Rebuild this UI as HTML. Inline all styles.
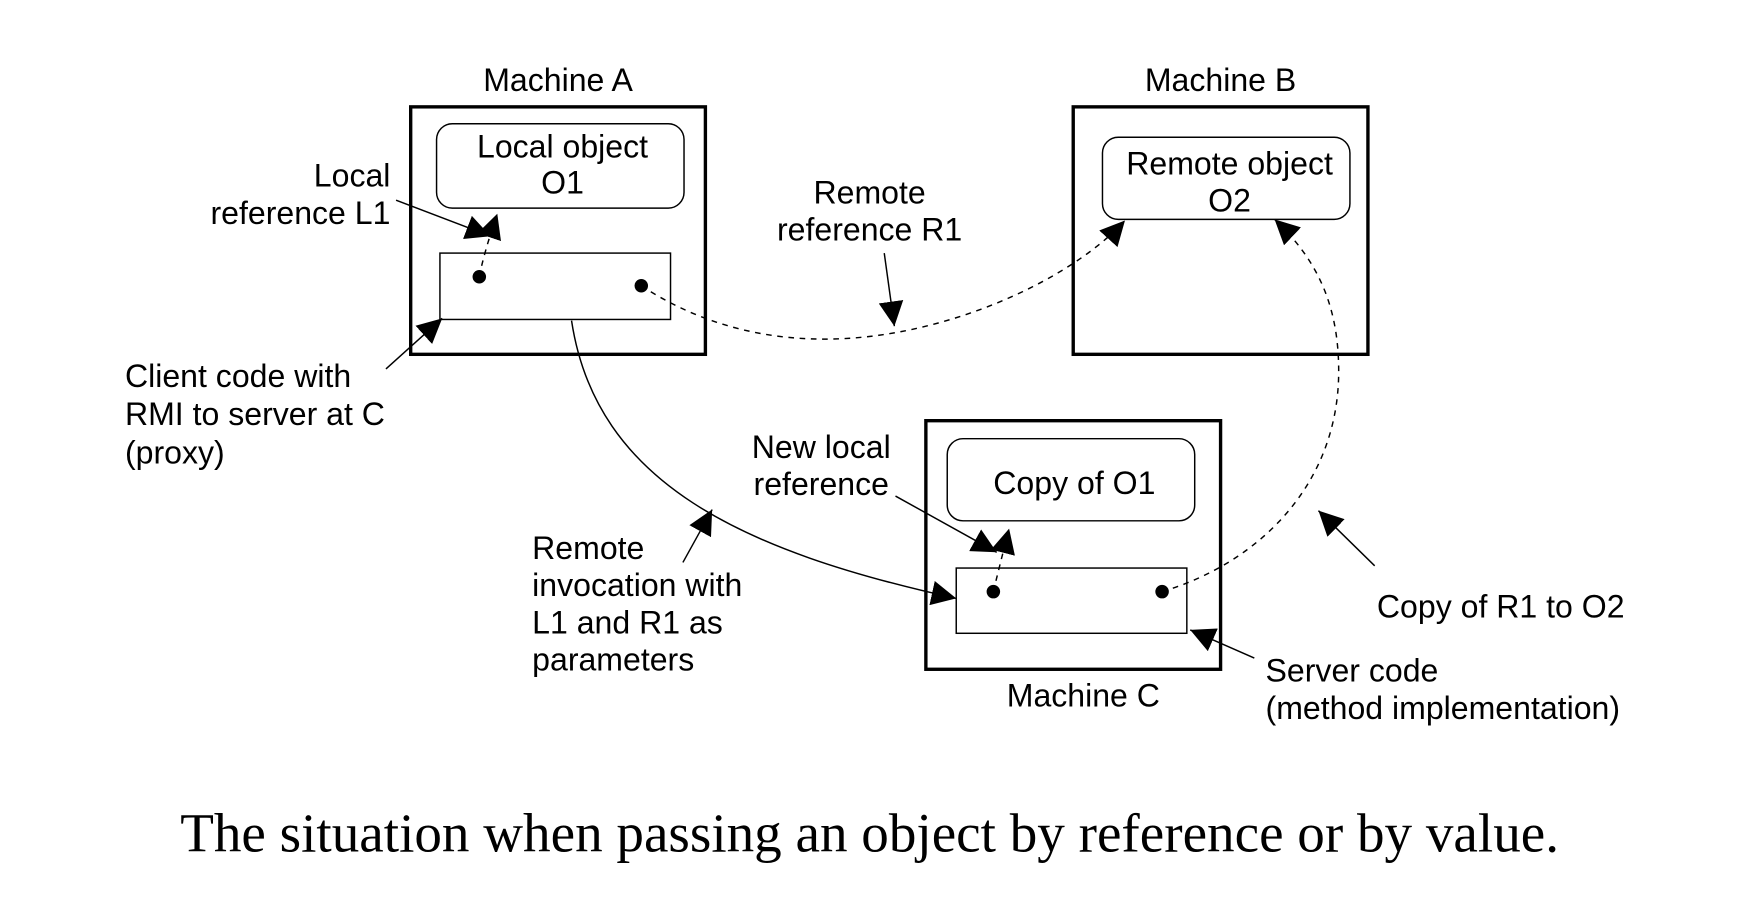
<!DOCTYPE html>
<html><head><style>
html,body{margin:0;padding:0;background:#fff;}
svg{display:block;}
text{font-family:"Liberation Sans",sans-serif;font-size:28.5px;fill:#000;}
.cap{font-family:"Liberation Serif",serif;font-size:49px;}
</style></head><body>
<svg width="1746" height="910" viewBox="0 0 1552 809" xmlns="http://www.w3.org/2000/svg">
<defs>
<marker id="ah" viewBox="0 0 10 10" refX="10" refY="5" markerWidth="22" markerHeight="22" markerUnits="userSpaceOnUse" orient="auto">
<path d="M0,0 L10,5 L0,10 z" fill="#000"/></marker>
</defs>
<g fill="none" stroke="#000">
<rect x="365" y="95" width="262" height="220" stroke-width="3"/>
<rect x="954" y="95" width="262" height="220" stroke-width="3"/>
<rect x="823" y="374" width="262" height="221" stroke-width="3"/>
<rect x="388" y="110" width="220" height="75" rx="14" stroke-width="1.3"/>
<rect x="980" y="122" width="220" height="73" rx="14" stroke-width="1.3"/>
<rect x="842" y="390" width="220" height="73" rx="14" stroke-width="1.3"/>
<rect x="391" y="225" width="205" height="59" stroke-width="1.3"/>
<rect x="850" y="505" width="205" height="58" stroke-width="1.3"/>
<g stroke-width="1.3">
<path d="M426,246 Q430,225 442,190" stroke-dasharray="5,5" marker-end="url(#ah)"/>
<path d="M352,178 L436,210" marker-end="url(#ah)"/>
<path d="M570,254 C640,300 720,310 800,295 C880,280 960,240 1000,196" stroke-dasharray="5,5" marker-end="url(#ah)"/>
<path d="M786,225 L795,290" marker-end="url(#ah)"/>
<path d="M343,328 L393,283" marker-end="url(#ah)"/>
<path d="M508,285 C530,430 660,490 850,532" marker-end="url(#ah)"/>
<path d="M607,500 L633,453" marker-end="url(#ah)"/>
<path d="M796,441 L886,491" marker-end="url(#ah)"/>
<path d="M883,526 Q888,505 897,470" stroke-dasharray="5,5" marker-end="url(#ah)"/>
<path d="M1033,526 C1120,500 1190,430 1190,330 C1190,270 1170,230 1133,195" stroke-dasharray="5,5" marker-end="url(#ah)"/>
<path d="M1222,503 L1172,454" marker-end="url(#ah)"/>
<path d="M1115,585 L1058,560" marker-end="url(#ah)"/>
</g>
</g>
<g fill="#000"><circle cx="426" cy="246" r="6"/><circle cx="570" cy="254" r="6"/><circle cx="883" cy="526" r="6"/><circle cx="1033" cy="526" r="6"/></g>
<text x="496" y="81" text-anchor="middle">Machine A</text>
<text x="1085" y="81" text-anchor="middle">Machine B</text>
<text x="963" y="628" text-anchor="middle">Machine C</text>
<text x="500" y="140" text-anchor="middle">Local object</text>
<text x="500" y="172" text-anchor="middle">O1</text>
<text x="1093" y="155" text-anchor="middle">Remote object</text>
<text x="1093" y="188" text-anchor="middle">O2</text>
<text x="955" y="439" text-anchor="middle">Copy of O1</text>
<text x="347" y="166" text-anchor="end">Local</text>
<text x="347" y="199" text-anchor="end">reference L1</text>
<text x="773" y="181" text-anchor="middle">Remote</text>
<text x="773" y="214" text-anchor="middle">reference R1</text>
<text x="111" y="344">Client code with</text>
<text x="111" y="378">RMI to server at C</text>
<text x="111" y="412">(proxy)</text>
<text x="730" y="407" text-anchor="middle">New local</text>
<text x="730" y="440" text-anchor="middle">reference</text>
<text x="473" y="497">Remote</text>
<text x="473" y="530">invocation with</text>
<text x="473" y="563">L1 and R1 as</text>
<text x="473" y="596">parameters</text>
<text x="1224" y="549">Copy of R1 to O2</text>
<text x="1125" y="606">Server code</text>
<text x="1125" y="639">(method implementation)</text>
<text class="cap" x="773" y="757" text-anchor="middle">The situation when passing an object by reference or by value.</text>
</svg>
</body></html>
